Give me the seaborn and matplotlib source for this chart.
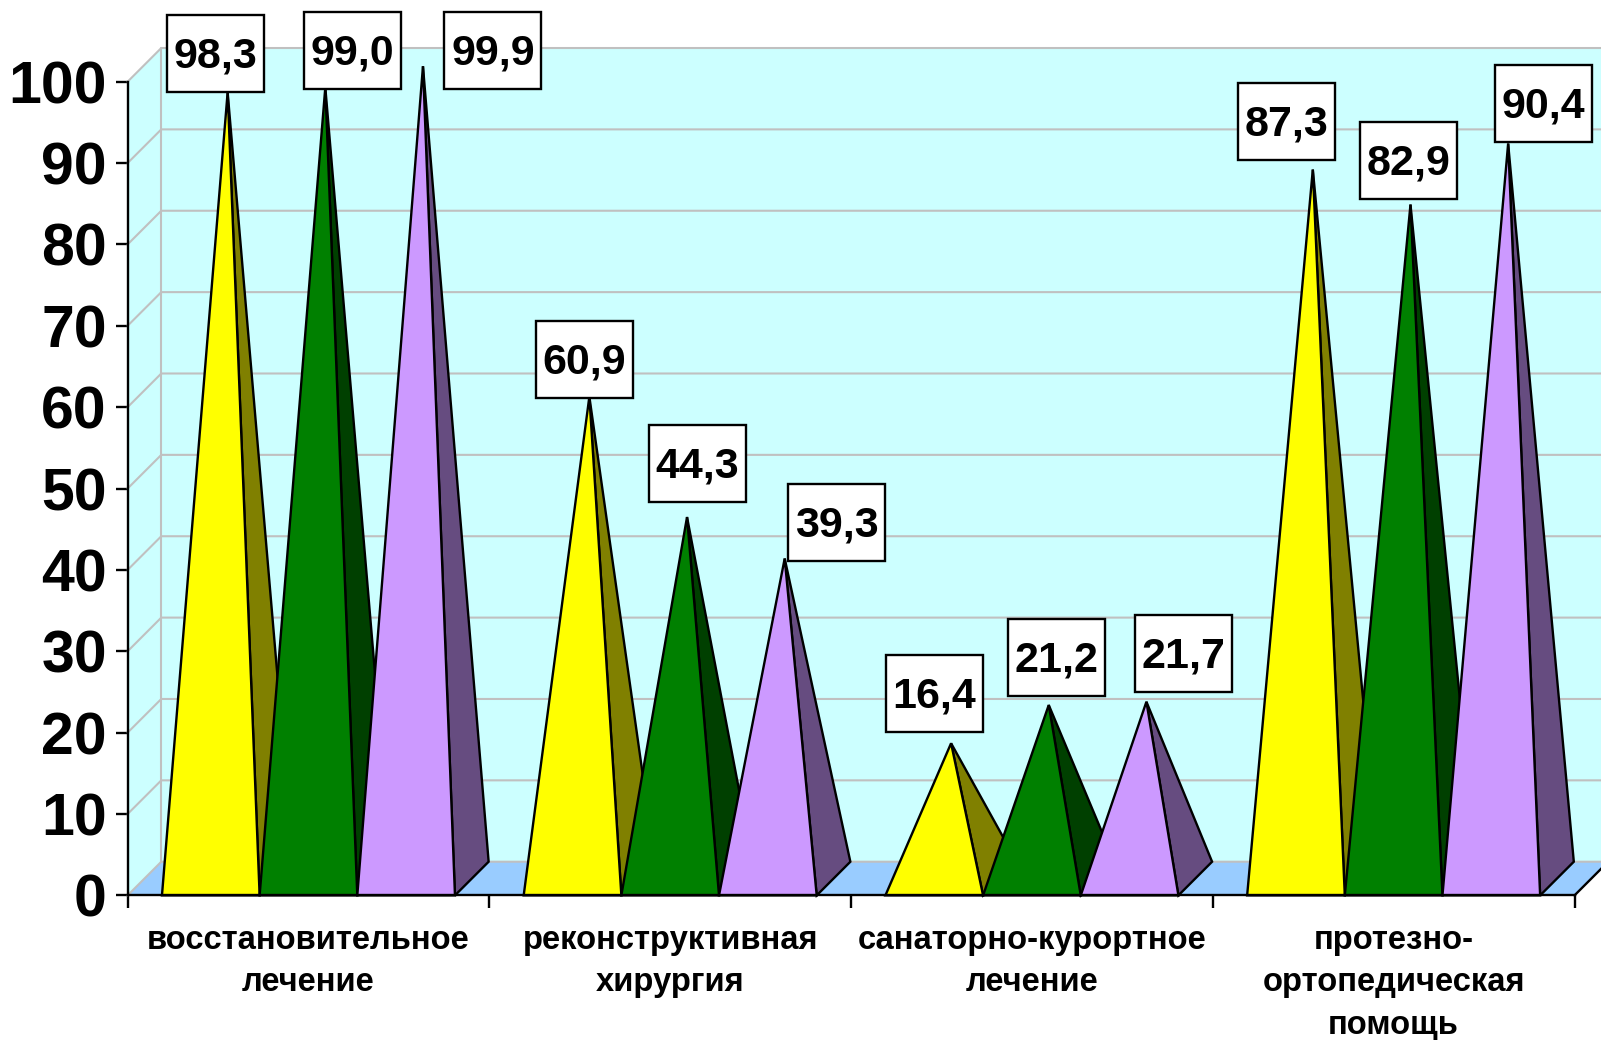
import pandas as pd
import matplotlib.pyplot as plt
import seaborn as sns
from matplotlib.patches import Polygon, Rectangle
from matplotlib.transforms import IdentityTransform

# Data
categories = ['восстановительное\nлечение', 'реконструктивная\nхирургия',
              'санаторно-курортное\nлечение', 'протезно-\nортопедическая\nпомощь']
series = ['a', 'b', 'c']
# printed labels
label_a = ['98,3', '60,9', '16,4', '87,3']
label_b = ['99,0', '44,3', '21,2', '82,9']
label_c = ['99,9', '39,3', '21,7', '90,4']
# height of each apex on the value axis
height_a = [98.7, 61.3, 18.7, 89.2]
height_b = [99.3, 46.5, 23.4, 84.9]
height_c = [101.9, 41.4, 23.8, 92.4]

front_colors = ['#FFFF00', '#008000', '#CC99FF']
side_colors = ['#808000', '#004000', '#664C80']
wall_color = '#CCFFFF'
floor_color = '#99CCFF'
grid_color = '#C0C0C0'

# label box centre relative to apex, pixels
offset_a = [(-12, 39), (-5, 37), (-17, 50), (-26, 48)]
offset_b = [(27, 37), (10, 54), (8, 47), (-2, 44)]
offset_c = [(70, 16), (52, 36), (37, 48), (35, 40)]

df = pd.DataFrame({
    'category': categories * 3,
    'series': [s for s in series for _ in categories],
    'height': height_a + height_b + height_c,
})

sns.set_style('white')
plt.rcParams['font.family'] = ['Liberation Sans', 'DejaVu Sans']
plt.rcParams['font.weight'] = 'bold'
plt.rcParams['text.color'] = 'black'
plt.rcParams['xtick.color'] = 'black'
plt.rcParams['ytick.color'] = 'black'

fig = plt.figure(figsize=(16.01, 10.40), dpi=100)
W, H = 1601, 1040
ax = fig.add_axes([127.6 / W, 1 - 895.4 / H, (1574.5 - 127.6) / W, (895.4 - 81.7) / H])
ax.patch.set_visible(False)

sns.barplot(data=df, x='category', y='height', hue='series', width=0.81, gap=0,
            legend=False, ax=ax)
ax.set_xlim(-0.5, 3.5)
ax.set_ylim(0, 100)
ax.set_xlabel('')
ax.set_ylabel('')

# 3d depth of the box in data units
dx = 0.0931
dy = 4.14

# walls and floor
ax.add_patch(Polygon([(-0.5, 0), (-0.5 + dx, dy), (3.5 + dx, dy), (3.5 + dx, 100 + dy),
                      (-0.5 + dx, 100 + dy), (-0.5, 100)],
                     fc=wall_color, ec='none', clip_on=False, zorder=0.5))
ax.add_patch(Polygon([(-0.5, 0), (3.5, 0), (3.5 + dx, dy), (-0.5 + dx, dy)],
                     fc=floor_color, ec='none', clip_on=False, zorder=0.6))
for v in range(0, 101, 10):
    ax.plot([-0.5, -0.5 + dx, 3.5 + dx], [v, v + dy, v + dy], color=grid_color, lw=1.5,
            clip_on=False, zorder=0.7, solid_joinstyle='miter')
ax.plot([-0.5 + dx, -0.5 + dx], [dy, 100 + dy], color=grid_color, lw=1.5, clip_on=False, zorder=0.7)
ax.plot([3.5, 3.5 + dx], [0, dy], color='black', lw=1.7, clip_on=False, zorder=0.8)

# pyramids from the bars seaborn placed
fig.canvas.draw()
z = 2.0
labels = [label_a, label_b, label_c]
offsets = [offset_a, offset_b, offset_c]
boxes = []
for cat_i in range(len(categories)):
    for s_i, container in enumerate(ax.containers):
        bar = container[cat_i]
        bar.set_visible(False)
        x0 = bar.get_x()
        x1 = x0 + bar.get_width()
        top = bar.get_height()
        apex = ((x0 + x1) / 2 + dx / 2, top)
        ax.add_patch(Polygon([(x1, 0), (x1 + dx, dy), apex], fc=side_colors[s_i], ec='black',
                             lw=1.7, joinstyle='miter', clip_on=False, zorder=z))
        ax.add_patch(Polygon([(x0, 0), (x1, 0), apex], fc=front_colors[s_i], ec='black',
                             lw=1.7, joinstyle='miter', clip_on=False, zorder=z + 0.01))
        z += 0.02
        boxes.append((apex, offsets[s_i][cat_i], labels[s_i][cat_i]))

# value labels in white boxes
for apex, off, text in boxes:
    px, py = ax.transData.transform(apex)
    cx, cy = px + off[0], py + off[1]
    ax.add_patch(Rectangle((cx - 48.5, cy - 38.5), 97, 77, transform=IdentityTransform(),
                           fc='white', ec='black', lw=1.7, clip_on=False, zorder=5))
    ax.text(cx, cy - 3, text, transform=IdentityTransform(), ha='center', va='center',
            fontsize=31, fontweight='bold', color='black', zorder=6, clip_on=False)

# axes
sns.despine(ax=ax, top=True, right=True)
for side in ['left', 'bottom']:
    ax.spines[side].set_color('black')
    ax.spines[side].set_linewidth(1.7)
    ax.spines[side].set_zorder(4)
ax.set_yticks(range(0, 101, 10))
ax.tick_params(axis='y', which='major', left=True, length=9, width=1.7, color='black',
               labelsize=42.5, pad=6)
ax.set_xticks(range(len(categories)))
ax.set_xticklabels(categories, fontsize=23.6, fontweight='bold', linespacing=1.49, color='black')
ax.set_xticks([-0.5, 0.5, 1.5, 2.5, 3.5], minor=True)
ax.tick_params(axis='x', which='major', bottom=False, length=0, pad=21)
ax.tick_params(axis='x', which='minor', bottom=True, length=9, width=1.7, color='black')
for t in ax.get_yticklabels():
    t.set_fontweight('bold')

fig.savefig('out.png', dpi=100, facecolor='white')
